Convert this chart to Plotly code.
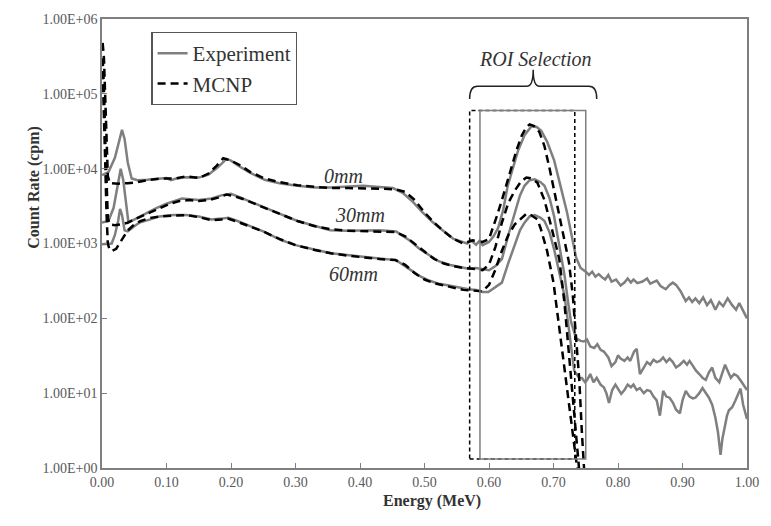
import math
import plotly.graph_objects as go

# ---------------- data ----------------
exp0_E = [0.000, 0.010, 0.020, 0.027, 0.031, 0.035, 0.040, 0.046, 0.055, 0.070, 0.085, 0.100, 0.107, 0.115,
          0.130, 0.150, 0.165, 0.180, 0.193, 0.200, 0.215, 0.230, 0.252, 0.275, 0.303, 0.330, 0.354, 0.380,
          0.405, 0.430, 0.451, 0.467, 0.482, 0.497, 0.512, 0.528, 0.545, 0.559, 0.566, 0.572, 0.580, 0.585,
          0.590, 0.600, 0.607, 0.614, 0.622, 0.629, 0.637, 0.645, 0.655, 0.666, 0.674, 0.681, 0.690, 0.701,
          0.711, 0.721, 0.728, 0.735, 0.742, 0.750, 0.755, 0.760, 0.765, 0.770, 0.775, 0.780, 0.785, 0.790,
          0.797, 0.804, 0.810, 0.815, 0.820, 0.824, 0.830, 0.838, 0.845, 0.850, 0.855, 0.860, 0.866, 0.874,
          0.880, 0.885, 0.890, 0.897, 0.905, 0.910, 0.915, 0.920, 0.926, 0.932, 0.938, 0.944, 0.951, 0.957,
          0.963, 0.970, 0.977, 0.983, 0.988, 0.993, 1.000]
exp0_R = [8200, 9000, 14000, 25000, 33000, 25000, 12000, 7400, 7000, 7100, 7300, 7500, 7000, 7400,
          7700, 7600, 8300, 10500, 13500, 12800, 10500, 8800, 7100, 6400, 5900, 5600, 5600, 5700,
          5900, 5700, 5500, 4700, 3600, 2600, 1950, 1500, 1150, 1050, 1000, 1100, 960, 1080,
          950, 1050, 1250, 1600, 2800, 5900, 10500, 17400, 28000, 37000, 36000, 32000, 23000, 12900,
          5800, 2600, 1300, 650, 470, 420, 380, 420, 360, 390, 355, 330, 380, 310,
          330, 275, 300, 340, 300, 330, 295, 310, 340, 290, 305, 320, 270, 245,
          280, 300, 280, 230, 170, 190, 165, 185, 160, 190, 150, 175, 130, 165,
          145, 185, 150, 130, 160, 130, 100]

exp30_E = [0.000, 0.010, 0.018, 0.024, 0.029, 0.033, 0.037, 0.041, 0.046, 0.055, 0.070, 0.085, 0.100, 0.124,
           0.150, 0.170, 0.185, 0.200, 0.215, 0.227, 0.252, 0.275, 0.303, 0.330, 0.354, 0.380, 0.405, 0.430,
           0.456, 0.477, 0.492, 0.507, 0.522, 0.538, 0.555, 0.568, 0.580, 0.590, 0.600, 0.610, 0.620, 0.630,
           0.640, 0.648, 0.655, 0.663, 0.671, 0.680, 0.686, 0.694, 0.701, 0.709, 0.717, 0.722, 0.727, 0.735,
           0.742, 0.747, 0.752, 0.757, 0.763, 0.768, 0.773, 0.778, 0.785, 0.790, 0.796, 0.800, 0.804, 0.810,
           0.815, 0.819, 0.825, 0.829, 0.834, 0.840, 0.845, 0.850, 0.855, 0.860, 0.865, 0.870, 0.875, 0.880,
           0.885, 0.890, 0.896, 0.902, 0.907, 0.911, 0.917, 0.921, 0.926, 0.931, 0.936, 0.941, 0.946, 0.951,
           0.957, 0.962, 0.966, 0.970, 0.975, 0.980, 0.985, 0.992, 1.000]
exp30_R = [1900, 2000, 3000, 6000, 10000, 7000, 3500, 1900, 2000, 2200, 2600, 3000, 3400, 4000,
           3800, 4000, 4400, 4600, 4100, 3700, 3000, 2500, 2000, 1700, 1500, 1480, 1480, 1500,
           1450, 1100, 850, 700, 580, 520, 480, 460, 470, 450, 440, 500, 620, 1300,
           2600, 4400, 5900, 7000, 7200, 6600, 5900, 4000, 2300, 950, 380, 180, 91, 54,
           50, 49, 52, 42, 40, 45, 38, 36, 30, 23, 26, 32, 29, 27,
           30, 27, 36, 39, 18, 22, 26, 24, 28, 26, 27, 30, 26, 29,
           26, 22, 24, 27, 24, 27, 22, 20, 18, 16, 15, 19, 22, 16,
           14, 19, 24, 20, 16, 18, 17, 14, 11]

exp60_E = [0.000, 0.008, 0.015, 0.020, 0.025, 0.028, 0.031, 0.035, 0.040, 0.050, 0.058, 0.075, 0.089, 0.110,
           0.130, 0.150, 0.170, 0.185, 0.196, 0.210, 0.227, 0.250, 0.277, 0.300, 0.329, 0.355, 0.380, 0.405,
           0.430, 0.456, 0.477, 0.492, 0.507, 0.522, 0.538, 0.555, 0.568, 0.580, 0.590, 0.599, 0.610, 0.620,
           0.630, 0.640, 0.648, 0.655, 0.663, 0.671, 0.680, 0.686, 0.694, 0.701, 0.709, 0.717, 0.724, 0.732,
           0.740, 0.744, 0.749, 0.752, 0.757, 0.762, 0.767, 0.773, 0.778, 0.782, 0.786, 0.791, 0.796, 0.801,
           0.805, 0.810, 0.815, 0.820, 0.824, 0.829, 0.834, 0.840, 0.845, 0.850, 0.855, 0.860, 0.865, 0.870,
           0.875, 0.880, 0.885, 0.890, 0.896, 0.900, 0.905, 0.911, 0.916, 0.920, 0.926, 0.931, 0.936, 0.941,
           0.946, 0.951, 0.955, 0.959, 0.962, 0.965, 0.969, 0.972, 0.977, 0.982, 0.987, 0.990, 0.994, 0.997,
           1.000]
exp60_R = [980, 980, 1000, 1300, 2000, 2900, 2400, 1500, 1450, 1700, 1900, 2100, 2300, 2400,
           2400, 2300, 2100, 2150, 2200, 2000, 1750, 1450, 1120, 950, 830, 740, 700, 660,
           630, 600, 450, 370, 320, 290, 275, 255, 245, 240, 225, 225, 260, 300,
           550, 1000, 1500, 1900, 2300, 2400, 2200, 2000, 1400, 830, 420, 200, 70, 20,
           16, 16, 14, 15, 18, 14, 16, 13, 12, 10, 7.4, 11, 13, 11,
           9.8, 11, 13, 12, 13, 11, 11.7, 10, 11, 10.7, 9, 8, 5, 10.7,
           9, 8.7, 7.5, 6, 5.4, 8, 10.7, 9, 8.5, 8.7, 10, 11.7, 10, 8.7,
           7, 4.7, 3.0, 1.5, 2.5, 3.5, 5, 5.9, 6.5, 8, 10, 11.5, 7, 5.5,
           4.5]

mc0_E = [0.001, 0.003, 0.005, 0.007, 0.009, 0.012, 0.025, 0.040, 0.055, 0.070, 0.085, 0.100, 0.115, 0.130,
         0.150, 0.165, 0.178, 0.188, 0.200, 0.215, 0.230, 0.252, 0.275, 0.303, 0.330, 0.354, 0.380, 0.405,
         0.430, 0.455, 0.470, 0.485, 0.500, 0.515, 0.530, 0.545, 0.560, 0.575, 0.590, 0.600, 0.605, 0.612,
         0.620, 0.628, 0.635, 0.643, 0.651, 0.658, 0.663, 0.670, 0.678, 0.686, 0.694, 0.701, 0.710, 0.717,
         0.724, 0.730, 0.735, 0.740, 0.744, 0.748, 0.752]
mc0_R = [480000, 300000, 90000, 20000, 8000, 6400, 6300, 6400, 6600, 7000, 7300, 7400, 7400, 7900,
         7500, 8600, 11000, 13800, 12800, 11000, 9000, 7400, 6600, 6000, 5700, 5500, 5500, 5500,
         5400, 5300, 4900, 3800, 2600, 1900, 1450, 1150, 1000, 1100, 1050, 1150, 1500, 2300,
         3800, 6500, 11000, 18000, 28000, 36000, 39000, 37000, 31000, 20000, 10000, 5100, 2300, 1200,
         560, 200, 60, 15, 3, 0.8, 0.5]

mc30_E = [0.001, 0.003, 0.005, 0.007, 0.009, 0.012, 0.020, 0.030, 0.040, 0.050, 0.060, 0.075, 0.090, 0.105,
          0.120, 0.135, 0.150, 0.165, 0.180, 0.193, 0.205, 0.220, 0.240, 0.260, 0.280, 0.303, 0.330, 0.354,
          0.380, 0.405, 0.430, 0.455, 0.470, 0.485, 0.500, 0.515, 0.530, 0.545, 0.560, 0.575, 0.590, 0.600,
          0.610, 0.620, 0.630, 0.640, 0.650, 0.658, 0.666, 0.675, 0.686, 0.698, 0.709, 0.717, 0.722, 0.727,
          0.732, 0.736, 0.740, 0.744]
mc30_R = [300000, 120000, 25000, 5000, 2200, 1800, 1750, 1800, 1900, 2100, 2300, 2600, 3000, 3400,
          3700, 3800, 3700, 3800, 4100, 4500, 4300, 3900, 3300, 2800, 2400, 2000, 1700, 1550,
          1480, 1450, 1450, 1420, 1250, 1000, 780, 620, 540, 500, 470, 460, 440, 520,
          900, 1900, 3500, 5100, 6800, 7600, 7400, 6500, 3800, 1500, 617, 160, 50, 16,
          5, 2, 0.9, 0.5]

mc60_E = [0.001, 0.003, 0.005, 0.007, 0.009, 0.012, 0.016, 0.022, 0.030, 0.040, 0.050, 0.060, 0.075, 0.090,
          0.110, 0.130, 0.150, 0.170, 0.185, 0.195, 0.210, 0.230, 0.250, 0.275, 0.300, 0.330, 0.355, 0.380,
          0.405, 0.430, 0.455, 0.470, 0.485, 0.500, 0.515, 0.530, 0.545, 0.560, 0.575, 0.590, 0.600, 0.610,
          0.620, 0.630, 0.640, 0.650, 0.658, 0.665, 0.675, 0.680, 0.690, 0.700, 0.710, 0.720, 0.730, 0.736,
          0.740]
mc60_R = [200000, 60000, 12000, 2500, 1000, 820, 800, 850, 1100, 1500, 1800, 2000, 2200, 2300,
          2350, 2400, 2250, 2050, 2100, 2150, 1950, 1700, 1450, 1150, 950, 820, 740, 690,
          650, 620, 600, 520, 400, 330, 295, 275, 255, 240, 235, 230, 280, 450,
          800, 1300, 1800, 2200, 2500, 2400, 2100, 1600, 800, 300, 60, 13, 2.8, 1.0,
          0.6]

y_tickvals = [1, 10, 100, 1000, 10000, 100000, 1000000]
y_ticktext = ["1.00E+00", "1.00E+01", "1.00E+02", "1.00E+03", "1.00E+04", "1.00E+05", "1.00E+06"]
x_tickvals = [0.0, 0.1, 0.2, 0.3, 0.4, 0.5, 0.6, 0.7, 0.8, 0.9, 1.0]
x_ticktext = ["0.00", "0.10", "0.20", "0.30", "0.40", "0.50", "0.60", "0.70", "0.80", "0.90", "1.00"]

# ROI boxes (MeV, cpm)
roi_mcnp = (0.570, 0.733)
roi_exp = (0.586, 0.750)
roi_y = (1.32, 60000)

curve_labels = [("0mm", 0.375, 8100), ("30mm", 0.400, 2400), ("60mm", 0.390, 390)]

# ---------------- figure ----------------
GRAY = "#7f7f7f"
SERIF = "Liberation Serif"

fig = go.Figure()

exp_sets = [(exp0_E, exp0_R), (exp30_E, exp30_R), (exp60_E, exp60_R)]
mc_sets = [(mc0_E, mc0_R), (mc30_E, mc30_R), (mc60_E, mc60_R)]

for i, (E, R) in enumerate(exp_sets):
    fig.add_trace(go.Scatter(x=E, y=R, mode="lines", name="Experiment",
                             legendgroup="exp", showlegend=(i == 0),
                             line=dict(color=GRAY, width=2.5)))
for i, (E, R) in enumerate(mc_sets):
    fig.add_trace(go.Scatter(x=E, y=R, mode="lines", name="MCNP",
                             legendgroup="mc", showlegend=(i == 0),
                             line=dict(color="black", width=2.5, dash="8px,5px")))

shapes = [
    dict(type="rect", xref="x", yref="y", x0=roi_mcnp[0], x1=roi_mcnp[1], y0=roi_y[0], y1=roi_y[1],
         line=dict(color="black", width=1.5, dash="4px,3px"), layer="above"),
    dict(type="rect", xref="x", yref="y", x0=roi_exp[0], x1=roi_exp[1], y0=roi_y[0], y1=roi_y[1],
         line=dict(color=GRAY, width=1.5), layer="above"),
]
# curly bracket above the ROI (x in MeV, y in paper fraction)
xl, xr = roi_mcnp[0], 0.767
xm = (xl + xr) / 2
yb, yh, yt = 0.822, 0.850, 0.887
path = (f"M {xl},{yb} Q {xl},{yh} {xl+0.012},{yh} L {xm-0.010},{yh} Q {xm},{yh} {xm},{yt} "
        f"Q {xm},{yh} {xm+0.010},{yh} L {xr-0.012},{yh} Q {xr},{yh} {xr},{yb}")
shapes.append(dict(type="path", xref="x", yref="paper", path=path,
                   line=dict(color="#222222", width=1.5)))

W, H = 771, 526
L, R, T, B = 102, 16, 13, 58
pw, ph = W - L - R, H - T - B

annotations = [
    dict(text="<i>ROI Selection</i>", x=xm + 0.004, y=0.912, xref="x", yref="paper", showarrow=False,
         font=dict(family=SERIF, size=20, color="#333333"), xanchor="center", yanchor="middle"),
    dict(text="<b>Count Rate (cpm)</b>", x=(22 - L) / pw, y=(H - B - 183) / ph,
         xref="paper", yref="paper", showarrow=False,
         textangle=-90, font=dict(family=SERIF, size=16, color="#333333")),
    dict(text="<b>Energy (MeV)</b>", x=(436 - L) / pw, y=(H - B - 513) / ph,
         xref="paper", yref="paper", showarrow=False,
         font=dict(family=SERIF, size=16, color="#333333")),
]
for txt, xe, yv in curve_labels:
    annotations.append(dict(text=f"<i>{txt}</i>", x=xe, y=math.log10(yv), xref="x", yref="y",
                            showarrow=False, font=dict(family=SERIF, size=20, color="#333333")))

fig.update_layout(
    width=W, height=H,
    margin=dict(l=L, r=R, t=T, b=B),
    paper_bgcolor="white", plot_bgcolor="white",
    font=dict(family=SERIF),
    showlegend=True,
    legend=dict(x=(152 - L) / pw, y=(H - B - 26) / ph, xanchor="left", yanchor="top",
                bordercolor="#555555", borderwidth=1.2, bgcolor="white",
                font=dict(family=SERIF, size=21, color="#333333"),
                itemwidth=30, tracegroupgap=0),
    shapes=shapes, annotations=annotations,
)
fig.update_xaxes(range=[0, 1], tickvals=x_tickvals, ticktext=x_ticktext,
                 showgrid=False, zeroline=False, showline=True, mirror=True,
                 linecolor=GRAY, linewidth=1.5, ticks="inside", ticklen=5, tickcolor=GRAY,
                 tickfont=dict(family=SERIF, size=14, color="#595959"))
fig.update_yaxes(type="log", range=[0, 6], tickvals=y_tickvals, ticktext=y_ticktext,
                 showgrid=False, zeroline=False, showline=True, mirror=True,
                 linecolor=GRAY, linewidth=1.5, ticks="inside", ticklen=5, tickcolor=GRAY,
                 tickfont=dict(family=SERIF, size=14, color="#595959"))

fig.write_html("out.html")
